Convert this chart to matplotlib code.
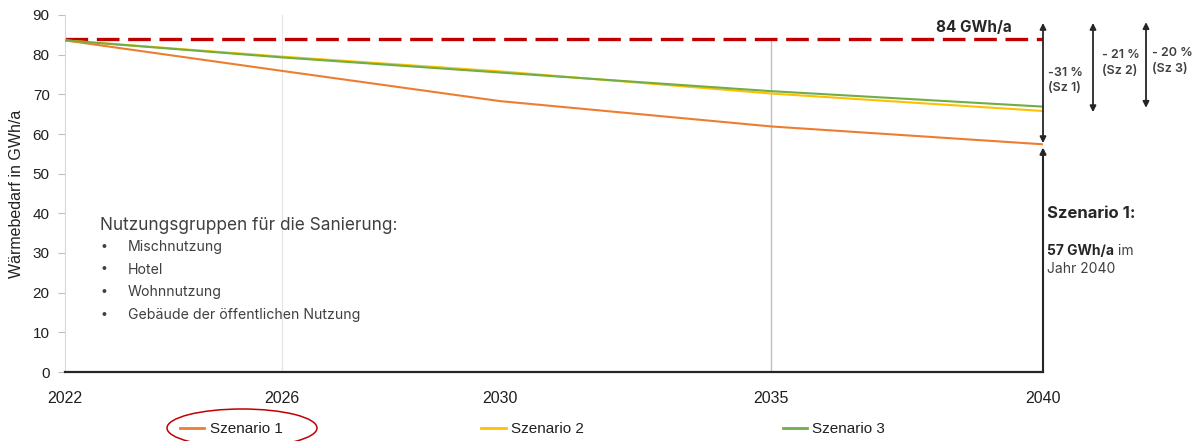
import matplotlib
matplotlib.use("Agg")
import matplotlib.pyplot as plt
from matplotlib.patches import Ellipse

# Heat demand per scenario (GWh/a)
years = [2022, 2026, 2030, 2035, 2040]
szenario_1 = [83.6, 75.9, 68.3, 61.9, 57.4]
szenario_2 = [83.6, 79.5, 75.8, 70.2, 65.8]
szenario_3 = [83.6, 79.3, 75.5, 70.8, 66.9]
baseline = 84
series_names = ["Szenario 1", "Szenario 2", "Szenario 3"]
series_colors = ["#ED7D31", "#FFC000", "#70AD47"]
y_ticks = [0, 10, 20, 30, 40, 50, 60, 70, 80, 90]

reductions = ["-31 %\n(Sz 1)", "- 21 %\n(Sz 2)", "- 20 %\n(Sz 3)"]
groups = ["Mischnutzung", "Hotel", "Wohnnutzung", "Gebäude der öffentlichen Nutzung"]

W, H = 1196, 441
fig = plt.figure(figsize=(W / 100, H / 100), dpi=100)
ax = fig.add_axes([65 / W, 1 - 372 / H, 978 / W, 357 / H])


def fp(x, y):
    """Pixel position (from top-left) to figure fraction."""
    return (x / W, 1 - y / H)


tick_font = "Liberation Sans"
note_font = "Inter"
dark = "#404040"

# vertical guide lines
ax.axvline(2026, color="#E6E6E6", lw=0.8, zorder=0)
ax.plot([2035, 2035], [baseline, 0], color="#BFBFBF", lw=1.0, zorder=0)

ax.plot([years[0], years[-1]], [baseline, baseline], color="#C00000", lw=2.4,
        dashes=(6.8, 2.6), zorder=2)

for vals, name, col in zip([szenario_1, szenario_2, szenario_3], series_names, series_colors):
    ax.plot(years, vals, color=col, lw=1.5, label=name, zorder=3)

ax.set_xlim(years[0], years[-1])
ax.set_ylim(0, 90)
ax.set_xticks(years)
ax.set_xticklabels([str(y) for y in years], fontfamily=tick_font, fontsize=11.5,
                   color="#202020")
ax.set_yticks(y_ticks)
ax.set_yticklabels([str(v) for v in y_ticks], fontfamily=tick_font, fontsize=11,
                   color="#202020")
ax.tick_params(axis="x", length=0, pad=14)
ax.tick_params(axis="y", length=5, color="#BFBFBF", width=0.8, pad=6)
for s in ["top", "right"]:
    ax.spines[s].set_visible(False)
ax.spines["left"].set_color("#D9D9D9")
ax.spines["left"].set_linewidth(0.8)
ax.spines["bottom"].set_color("#262626")
ax.spines["bottom"].set_linewidth(1.6)
ax.set_ylabel("Wärmebedarf in GWh/a", fontfamily=tick_font, fontsize=11.5,
              color="#202020", labelpad=6)

# reduction arrows on the right
arrow_kw = dict(arrowstyle="<|-|>", color="#262626", lw=1.3, mutation_scale=9,
                shrinkA=0, shrinkB=0)
ax.annotate("", xy=(2040, 88.0), xytext=(2040, szenario_1[-1] + 0.3),
            arrowprops=arrow_kw, annotation_clip=False)
ax.annotate("", xy=(2040, szenario_1[-1] - 0.8), xytext=(2040, 0),
            arrowprops=dict(arrowstyle="-|>", color="#262626", lw=1.5,
                            mutation_scale=9, shrinkA=0, shrinkB=0),
            annotation_clip=False)
x2 = 2022 + (1093 - 65) / 978 * 18
x3 = 2022 + (1146 - 65) / 978 * 18
ax.annotate("", xy=(x2, 88.0), xytext=(x2, szenario_2[-1] - 0.3),
            arrowprops=arrow_kw, annotation_clip=False)
ax.annotate("", xy=(x3, 88.2), xytext=(x3, szenario_3[-1] - 0.3),
            arrowprops=arrow_kw, annotation_clip=False)

fig.text(*fp(974, 28), f"{baseline} GWh/a", family=note_font, fontweight="bold",
         fontsize=11, color="#262626", ha="center", va="center")
for (x, y), txt in zip([(1048, 80.5), (1102, 63), (1152, 61)], reductions):
    fig.text(*fp(x, y), txt, family=note_font, fontweight="semibold", fontsize=9,
             color=dark, ha="left", va="center", linespacing=1.35)

fig.text(*fp(1047, 213), "Szenario 1:", family=note_font, fontweight="bold",
         fontsize=12, color="#262626", ha="left", va="center")
t57 = fig.text(*fp(1047, 251), f"{szenario_1[-1]:.0f} GWh/a", family=note_font,
               fontweight="bold", fontsize=10, color="#262626", ha="left", va="center")
ax.annotate(" im", xy=(1, 0), xycoords=t57, ha="left", va="bottom",
            family=note_font, fontsize=10, color=dark)
fig.text(*fp(1047, 269), "Jahr 2040", family=note_font, fontsize=10, color=dark,
         ha="left", va="center")

# renovation groups note
fig.text(*fp(100, 225), "Nutzungsgruppen für die Sanierung:", family=note_font,
         fontsize=12.4, color=dark, ha="left", va="center")
for i, g in enumerate(groups):
    y = 247 + i * 22.5
    fig.text(*fp(101, y), "•", family=note_font, fontsize=9, color=dark,
             ha="left", va="center")
    fig.text(*fp(128, y), g, family=note_font, fontsize=10.2, color=dark,
             ha="left", va="center")

leg = fig.legend(loc="center left", bbox_to_anchor=fp(180, 429), ncol=3, frameon=False,
                 prop={"family": tick_font, "size": 11}, handlelength=1.6,
                 handletextpad=0.35, columnspacing=13.0, borderpad=0, borderaxespad=0)
for line in leg.get_lines():
    line.set_linewidth(2.0)
for t in leg.get_texts():
    t.set_color("#202020")

fig.add_artist(Ellipse(fp(242, 428), width=150 / W, height=38 / H,
                       transform=fig.transFigure, fill=False,
                       edgecolor="#C00000", lw=1.1))

fig.savefig("out.png", dpi=100)
